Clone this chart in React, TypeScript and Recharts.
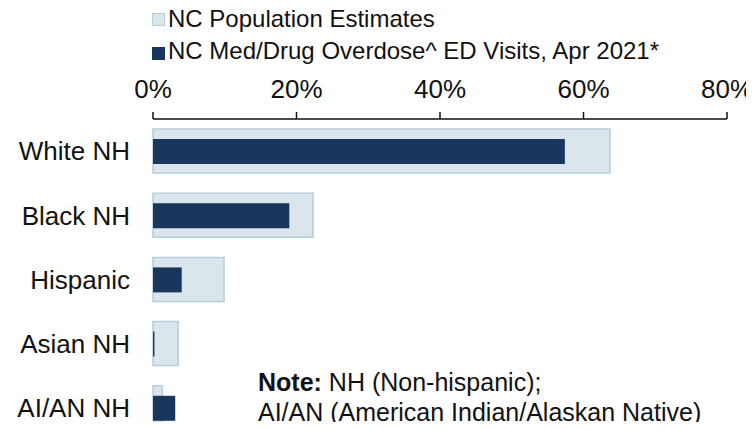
import React from "react";
import { BarChart, Bar, XAxis, YAxis } from "recharts";

// Share of NC population vs. share of med/drug overdose ED visits (Apr 2021), by race/ethnicity
const GROUPS = ["White NH", "Black NH", "Hispanic", "Asian NH", "AI/AN NH"];
const POPULATION = [63.7, 22.3, 9.9, 3.5, 1.3];
const ED_VISITS = [57.4, 19.0, 4.0, 0.2, 3.1];
const X_TICKS = [0, 20, 40, 60, 80];

const LEGEND_LABELS = [
  "NC Population Estimates",
  "NC Med/Drug Overdose^ ED Visits, Apr 2021*",
];

const POP_FILL = "#dae5ec";
const POP_STROKE = "#b7cdda";
const ED_FILL = "#1b365d";
const FONT = '"Liberation Sans", Arial, sans-serif';

const data = GROUPS.map((name, i) => ({
  name,
  pop: POPULATION[i],
  ed: ED_VISITS[i],
}));

export default function App() {
  return (
    <div
      style={{
        position: "relative",
        width: 754,
        height: 430,
        margin: -8,
        overflow: "hidden",
        background: "#fff",
        fontFamily: FONT,
      }}
    >
      <BarChart
        width={754}
        height={441}
        data={data}
        layout="vertical"
        margin={{ top: 0, right: 27, bottom: 1, left: 0 }}
      >
        <XAxis
          type="number"
          orientation="top"
          domain={[0, 80]}
          ticks={X_TICKS}
          height={119}
          tickFormatter={(v: number) => `${v}%`}
          tick={{ fontSize: 26, fill: "#111", fontFamily: FONT }}
          tickSize={7}
          tickMargin={14}
          axisLine={{ stroke: "#111", strokeWidth: 1.5 }}
          tickLine={{ stroke: "#111", strokeWidth: 1.5 }}
        />
        <YAxis
          yAxisId="pop"
          type="category"
          dataKey="name"
          width={153}
          axisLine={false}
          tickLine={false}
          tickSize={0}
          tickMargin={23}
          tick={{ fontSize: 26, fill: "#111", fontFamily: FONT }}
        />
        {/* second band axis so the thin bars sit centred over the wide ones */}
        <YAxis yAxisId="ed" type="category" dataKey="name" width={0} hide />
        <Bar
          yAxisId="pop"
          dataKey="pop"
          barSize={44}
          fill={POP_FILL}
          stroke={POP_STROKE}
          strokeWidth={1.5}
          isAnimationActive={false}
        />
        <Bar
          yAxisId="ed"
          dataKey="ed"
          barSize={25}
          fill={ED_FILL}
          isAnimationActive={false}
        />
      </BarChart>

      <svg
        width={754}
        height={430}
        style={{ position: "absolute", left: 0, top: 0, pointerEvents: "none" }}
      >
        <rect x={152.5} y={13.5} width={12} height={12} fill={POP_FILL} stroke={POP_STROKE} />
        <text x={168} y={27} fontSize={24} fill="#111" fontFamily={FONT}>
          {LEGEND_LABELS[0]}
        </text>
        <rect x={152} y={47} width={13} height={13} fill={ED_FILL} />
        <text x={168} y={59} fontSize={24} fill="#111" fontFamily={FONT}>
          {LEGEND_LABELS[1]}
        </text>

        <text x={258} y={391} fontSize={25} fill="#111" fontFamily={FONT}>
          <tspan fontWeight="bold">Note:</tspan>
          <tspan> NH (Non-hispanic);</tspan>
        </text>
        <text x={258} y={421} fontSize={25} fill="#111" fontFamily={FONT}>
          AI/AN (American Indian/Alaskan Native)
        </text>
      </svg>
    </div>
  );
}
